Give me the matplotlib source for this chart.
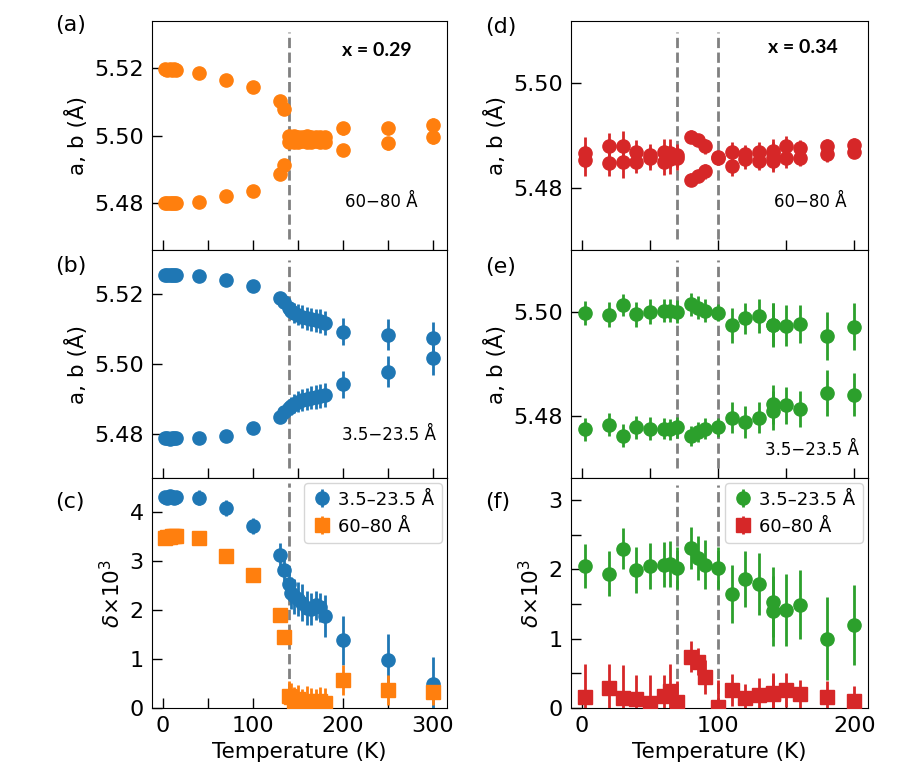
import matplotlib
matplotlib.use('Agg')
import matplotlib.pyplot as plt
from matplotlib.ticker import MultipleLocator

# temperatures (K)
T_left = [2, 5, 8, 10, 12, 15, 40, 70, 100, 130, 135, 140, 143, 146, 150, 155,
          160, 165, 170, 175, 180, 200, 250, 300]
T_right = [2, 20, 30, 40, 50, 60, 65, 70, 80, 85, 90, 100, 110, 120, 130, 140,
           140, 150, 160, 180, 200]

# (a) x = 0.29, 60-80 A
a_up = [5.5196, 5.5195, 5.5196, 5.5195, 5.5196, 5.5195, 5.5187, 5.5166, 5.5145,
        5.5101, 5.5080, 5.4998, 5.4997, 5.4998, 5.4997, 5.4996, 5.4998, 5.4996,
        5.4997, 5.4995, 5.4997, 5.5021, 5.5021, 5.5031]
a_lo = [5.4801, 5.4801, 5.4800, 5.4801, 5.4801, 5.4800, 5.4802, 5.4819, 5.4836,
        5.4886, 5.4911, 5.4982, 5.4983, 5.4981, 5.4982, 5.4984, 5.4981, 5.4982,
        5.4983, 5.4981, 5.4982, 5.4957, 5.4977, 5.4995]
a_err = [0.0003, 0.0003, 0.0003, 0.0003, 0.0003, 0.0003, 0.0004, 0.0004, 0.0005,
         0.0005, 0.0006, 0.0014, 0.0015, 0.0015, 0.0015, 0.0016, 0.0015, 0.0015,
         0.0016, 0.0015, 0.0015, 0.0019, 0.0020, 0.0021]

# (b) x = 0.29, 3.5-23.5 A
b_up = [5.5254, 5.5254, 5.5255, 5.5254, 5.5253, 5.5254, 5.5252, 5.5240, 5.5221,
        5.5188, 5.5176, 5.5160, 5.5152, 5.5146, 5.5140, 5.5135, 5.5130, 5.5128,
        5.5125, 5.5122, 5.5117, 5.5092, 5.5084, 5.5073]
b_lo = [5.4788, 5.4788, 5.4787, 5.4788, 5.4789, 5.4788, 5.4788, 5.4796, 5.4817,
        5.4848, 5.4862, 5.4874, 5.4881, 5.4887, 5.4893, 5.4897, 5.4901, 5.4904,
        5.4906, 5.4908, 5.4912, 5.4942, 5.4978, 5.5018]
b_err = [0.0004, 0.0004, 0.0004, 0.0004, 0.0004, 0.0004, 0.0005, 0.0005, 0.0006,
         0.0010, 0.0012, 0.0022, 0.0025, 0.0028, 0.0030, 0.0032, 0.0032, 0.0033,
         0.0033, 0.0034, 0.0035, 0.0038, 0.0044, 0.0048]

# (c) x = 0.29, orthorhombicity
c_short = [4.32, 4.30, 4.33, 4.31, 4.30, 4.32, 4.30, 4.09, 3.72, 3.12, 2.82, 2.53,
           2.35, 2.28, 2.22, 2.15, 2.05, 2.02, 2.10, 2.06, 1.88, 1.38, 0.98, 0.50]
c_short_err = [0.12, 0.12, 0.12, 0.12, 0.12, 0.12, 0.16, 0.17, 0.17, 0.25, 0.22,
               0.28, 0.33, 0.35, 0.35, 0.38, 0.35, 0.33, 0.30, 0.30, 0.43, 0.50,
               0.53, 0.55]
c_long = [3.48, 3.49, 3.50, 3.51, 3.52, 3.52, 3.47, 3.11, 2.71, 1.90, 1.45, 0.25,
          0.22, 0.15, 0.18, 0.10, 0.14, 0.12, 0.09, 0.15, 0.10, 0.57, 0.37, 0.32]
c_long_err = [0.05, 0.05, 0.05, 0.05, 0.05, 0.05, 0.05, 0.06, 0.06, 0.08, 0.10,
              0.30, 0.30, 0.28, 0.30, 0.28, 0.30, 0.28, 0.30, 0.28, 0.30, 0.30,
              0.30, 0.25]

# (d) x = 0.34, 60-80 A
d_up = [5.4867, 5.4879, 5.4879, 5.4869, 5.4862, 5.4869, 5.4866, 5.4862, 5.4898,
        5.4891, 5.4879, 5.4858, 5.4869, 5.4864, 5.4869, 5.4871, 5.4866, 5.4879,
        5.4876, 5.4879, 5.4882]
d_lo = [5.4852, 5.4847, 5.4849, 5.4850, 5.4856, 5.4850, 5.4854, 5.4856, 5.4815,
        5.4822, 5.4831, 5.4856, 5.4841, 5.4854, 5.4851, 5.4851, 5.4856, 5.4857,
        5.4857, 5.4865, 5.4869]
d_err = [0.0030, 0.0025, 0.0030, 0.0022, 0.0022, 0.0025, 0.0028, 0.0022, 0.0012,
         0.0012, 0.0015, 0.0010, 0.0018, 0.0018, 0.0018, 0.0022, 0.0022, 0.0020,
         0.0016, 0.0015, 0.0013]

# (e) x = 0.34, 3.5-23.5 A
e_up = [5.4999, 5.4995, 5.5014, 5.4996, 5.5001, 5.5003, 5.5003, 5.5001, 5.5015,
        5.5009, 5.5003, 5.4999, 5.4975, 5.4988, 5.4992, 5.4975, 5.4976, 5.4974,
        5.4977, 5.4954, 5.4972]
e_lo = [5.4774, 5.4783, 5.4762, 5.4778, 5.4775, 5.4775, 5.4774, 5.4778, 5.4761,
        5.4769, 5.4775, 5.4778, 5.4796, 5.4788, 5.4796, 5.4822, 5.4810, 5.4820,
        5.4813, 5.4844, 5.4841]
e_up_err = [0.0023, 0.0024, 0.0022, 0.0024, 0.0024, 0.0022, 0.0022, 0.0022,
            0.0022, 0.0022, 0.0022, 0.0016, 0.0034, 0.0030, 0.0033, 0.0042,
            0.0042, 0.0040, 0.0036, 0.0047, 0.0045]
e_lo_err = [0.0022, 0.0022, 0.0022, 0.0022, 0.0022, 0.0020, 0.0020, 0.0020,
            0.0020, 0.0020, 0.0020, 0.0018, 0.0030, 0.0030, 0.0030, 0.0038,
            0.0038, 0.0035, 0.0035, 0.0045, 0.0042]

# (f) x = 0.34, orthorhombicity
f_short = [2.05, 1.94, 2.30, 1.99, 2.05, 2.07, 2.08, 2.02, 2.31, 2.17, 2.07, 2.02,
           1.64, 1.86, 1.79, 1.53, 1.40, 1.41, 1.49, 1.00, 1.20]
f_short_err = [0.32, 0.32, 0.30, 0.33, 0.33, 0.32, 0.33, 0.30, 0.30, 0.32, 0.35,
               0.30, 0.42, 0.40, 0.45, 0.50, 0.50, 0.52, 0.50, 0.60, 0.58]
f_long = [0.16, 0.29, 0.15, 0.13, 0.07, 0.17, 0.24, 0.09, 0.74, 0.67, 0.45, 0.02,
          0.26, 0.14, 0.19, 0.22, 0.20, 0.26, 0.20, 0.16, 0.10]
f_long_err = [0.47, 0.35, 0.47, 0.35, 0.40, 0.30, 0.40, 0.30, 0.22, 0.20, 0.25,
              0.38, 0.23, 0.20, 0.25, 0.28, 0.28, 0.25, 0.20, 0.23, 0.22]

T_trans_left = [140]
T_trans_right = [70, 100]

ORANGE, BLUE, GREEN, RED = '#ff7f0e', '#1f77b4', '#2ca02c', '#d62728'
TICK_FS = 16
LABEL_FS = 15.5

fig = plt.figure(figsize=(9.03, 7.84), dpi=100)

W, H = 903.0, 784.0
col_x = [(152, 447), (571, 868)]
row_y = [(21, 250), (250, 478), (478, 708)]


def make_ax(col, row):
    x0, x1 = col_x[col]
    y0, y1 = row_y[row]
    return fig.add_axes([x0 / W, 1 - y1 / H, (x1 - x0) / W, (y1 - y0) / H])


def style(ax, right):
    ax.tick_params(which='both', direction='in', length=7, width=1,
                   labelsize=TICK_FS, top=False, right=False, pad=6)
    if right:
        ax.set_xlim(-8, 210)
    else:
        ax.set_xlim(-12, 316)
    ax.xaxis.set_major_locator(MultipleLocator(100))
    ax.xaxis.set_minor_locator(MultipleLocator(50))


def vlines(ax, temps, lo, hi):
    for t in temps:
        ax.axvline(t, ymin=lo, ymax=hi, color='gray', ls='--', lw=2, zorder=1)


kw = dict(fmt='o', ms=9.5, elinewidth=2, capsize=0, zorder=3)
kw_sq = dict(fmt='s', ms=9.5, elinewidth=2, capsize=0, zorder=3)

# ---- left column ----
ax_a = make_ax(0, 0)
ax_a.errorbar(T_left, a_up, yerr=a_err, color=ORANGE, **kw)
ax_a.errorbar(T_left, a_lo, yerr=a_err, color=ORANGE, **kw)
ax_a.set_ylim(5.466, 5.534)
ax_a.yaxis.set_major_locator(MultipleLocator(0.02))
ax_a.yaxis.set_major_formatter('{x:.2f}')
vlines(ax_a, T_trans_left, 0.05, 0.95)
style(ax_a, False)
ax_a.set_xticklabels([])
ax_a.set_ylabel('a, b (Å)', fontsize=LABEL_FS)
ax_a.text(0.763, 0.873, 'x = 0.29', transform=ax_a.transAxes, ha='center',
          va='center', fontsize=14, fontweight='bold', family='Lato')
ax_a.text(0.776, 0.21, '60\u221280 Å', transform=ax_a.transAxes, ha='center',
          va='center', fontsize=12)

ax_b = make_ax(0, 1)
ax_b.errorbar(T_left, b_up, yerr=b_err, color=BLUE, **kw)
ax_b.errorbar(T_left, b_lo, yerr=b_err, color=BLUE, **kw)
ax_b.set_ylim(5.4675, 5.5325)
ax_b.yaxis.set_major_locator(MultipleLocator(0.02))
ax_b.yaxis.set_major_formatter('{x:.2f}')
vlines(ax_b, T_trans_left, 0.045, 0.955)
style(ax_b, False)
ax_b.set_xticklabels([])
ax_b.set_ylabel('a, b (Å)', fontsize=LABEL_FS)
ax_b.text(0.803, 0.19, '3.5\u221223.5 Å', transform=ax_b.transAxes, ha='center',
          va='center', fontsize=12)

ax_c = make_ax(0, 2)
ax_c.errorbar(T_left, c_short, yerr=c_short_err, color=BLUE,
              label='3.5–23.5 Å', **kw)
ax_c.errorbar(T_left, c_long, yerr=c_long_err, color=ORANGE,
              label='60–80 Å', **kw_sq)
ax_c.set_ylim(0, 4.7)
ax_c.yaxis.set_major_locator(MultipleLocator(1))
vlines(ax_c, T_trans_left, 0.0, 0.98)
style(ax_c, False)
ax_c.set_ylabel(r'$\delta$×10$^3$', fontsize=LABEL_FS)
ax_c.set_xlabel('Temperature (K)', fontsize=LABEL_FS)
ax_c.legend(loc='upper right', fontsize=13, handletextpad=0.3,
            borderpad=0.4, handlelength=1.2, borderaxespad=0.3)

# ---- right column ----
ax_d = make_ax(1, 0)
ax_d.errorbar(T_right, d_up, yerr=d_err, color=RED, **kw)
ax_d.errorbar(T_right, d_lo, yerr=d_err, color=RED, **kw)
ax_d.set_ylim(5.468, 5.512)
ax_d.yaxis.set_major_locator(MultipleLocator(0.02))
ax_d.yaxis.set_major_formatter('{x:.2f}')
vlines(ax_d, T_trans_right, 0.05, 0.95)
style(ax_d, True)
ax_d.set_xticklabels([])
ax_d.set_ylabel('a, b (Å)', fontsize=LABEL_FS)
ax_d.text(0.782, 0.886, 'x = 0.34', transform=ax_d.transAxes, ha='center',
          va='center', fontsize=14, fontweight='bold', family='Lato')
ax_d.text(0.805, 0.21, '60\u221280 Å', transform=ax_d.transAxes, ha='center',
          va='center', fontsize=12)

ax_e = make_ax(1, 1)
ax_e.errorbar(T_right, e_up, yerr=e_up_err, color=GREEN, **kw)
ax_e.errorbar(T_right, e_lo, yerr=e_lo_err, color=GREEN, **kw)
ax_e.set_ylim(5.468, 5.512)
ax_e.yaxis.set_major_locator(MultipleLocator(0.02))
ax_e.yaxis.set_major_formatter('{x:.2f}')
vlines(ax_e, T_trans_right, 0.045, 0.955)
style(ax_e, True)
ax_e.set_xticklabels([])
ax_e.set_ylabel('a, b (Å)', fontsize=LABEL_FS)
ax_e.text(0.81, 0.125, '3.5\u221223.5 Å', transform=ax_e.transAxes, ha='center',
          va='center', fontsize=12)

ax_f = make_ax(1, 2)
ax_f.errorbar(T_right, f_short, yerr=f_short_err, color=GREEN,
              label='3.5–23.5 Å', **kw)
ax_f.errorbar(T_right, f_long, yerr=f_long_err, color=RED,
              label='60–80 Å', **kw_sq)
ax_f.set_ylim(0, 3.32)
ax_f.yaxis.set_major_locator(MultipleLocator(1))
ax_f.yaxis.set_minor_locator(MultipleLocator(0.5))
vlines(ax_f, T_trans_right, 0.0, 0.97)
style(ax_f, True)
ax_f.set_ylabel(r'$\delta$×10$^3$', fontsize=LABEL_FS)
ax_f.set_xlabel('Temperature (K)', fontsize=LABEL_FS)
ax_f.legend(loc='upper right', fontsize=13, handletextpad=0.3,
            borderpad=0.4, handlelength=1.2, borderaxespad=0.3)

# panel letters
for lab, (px, py) in zip(['(a)', '(b)', '(c)', '(d)', '(e)', '(f)'],
                         [(55, 25), (55, 266), (55, 502),
                          (485, 27), (485, 267), (485, 502)]):
    fig.text(px / W, 1 - py / H, lab, ha='left', va='center', fontsize=16)

fig.savefig('out.png', dpi=100)
